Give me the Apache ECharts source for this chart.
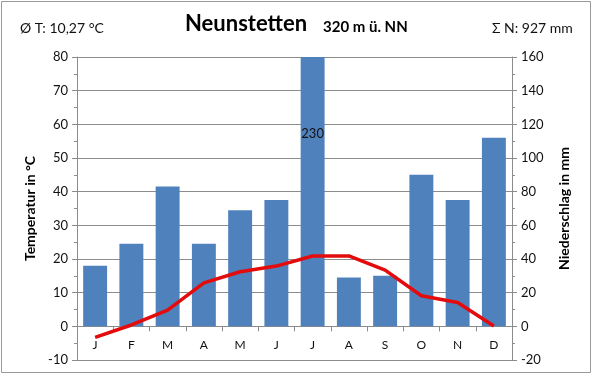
<!DOCTYPE html>
<html>
<head>
<meta charset="utf-8">
<script src="https://cdn.jsdelivr.net/npm/echarts@6/dist/echarts.min.js"></script>
<style>
  html, body { margin: 0; padding: 0; background: #fff; }
  #chart { width: 593px; height: 376px; }
</style>
</head>
<body>
<div id="chart"></div>
<script>
// Klimadiagramm Neunstetten
const months = ['J', 'F', 'M', 'A', 'M', 'J', 'J', 'A', 'S', 'O', 'N', 'D'];
const temperature = [-3.3, 0.4, 4.8, 12.9, 16.2, 17.9, 20.9, 20.9, 16.7, 9.1, 7.1, 0.1];
const precipitation = [36, 49, 83, 49, 69, 75, 230, 29, 30, 90, 75, 112];
const precipMax = 160;

const font = 'Lato, "Noto Sans", sans-serif';
const gridColor = '#8c8c8c';

// plot area, the x axis sits on 0 °C (10 units above the -10 bottom)
const gridTop = 57, gridBottom = 16;
const plotHeight = 376 - gridTop - gridBottom;
const zeroOffset = -plotHeight * 10 / 90;

const chart = echarts.init(document.getElementById('chart'));

chart.setOption({
  animation: false,
  textStyle: { fontFamily: font },
  graphic: [
    {
      type: 'rect',
      shape: { x: 1.5, y: 1.5, width: 589, height: 371 },
      style: { fill: 'none', stroke: '#9a9a9a', lineWidth: 1 }
    },
    {
      type: 'text', left: 20, top: 21,
      style: { text: 'Ø T: 10,27 °C', font: '14px ' + font, fill: '#111' }
    },
    {
      type: 'text', left: 185, top: 13,
      style: { text: 'Neunstetten', font: 'bold 22px ' + font, fill: '#000' }
    },
    {
      type: 'text', left: 323, top: 20,
      style: { text: '320 m ü. NN', font: 'bold 15px ' + font, fill: '#000' }
    },
    {
      type: 'text', left: 492, top: 21,
      style: { text: 'Σ N: 927 mm', font: '14px ' + font, fill: '#111' }
    }
  ],
  grid: { left: 77, right: 81, top: gridTop, bottom: gridBottom, containLabel: false, outerBoundsMode: 'none' },
  xAxis: {
    type: 'category',
    data: months,
    offset: zeroOffset,
    axisLine: { onZero: false, lineStyle: { color: gridColor } },
    axisTick: { show: true, alignWithLabel: false, length: 5, lineStyle: { color: gridColor } },
    axisLabel: { color: '#111', fontSize: 12, margin: 13 }
  },
  yAxis: [
    {
      type: 'value',
      min: -10, max: 80, interval: 10,
      name: 'Temperatur in °C',
      nameLocation: 'middle',
      nameGap: 40,
      nameRotate: 90,
      nameTextStyle: { fontWeight: 'bold', fontSize: 14, color: '#000' },
      axisLine: { show: true, lineStyle: { color: gridColor } },
      axisTick: { show: true, length: 5, lineStyle: { color: gridColor } },
      minorTick: { show: true, splitNumber: 2, length: 3, lineStyle: { color: gridColor } },
      splitLine: { show: true, lineStyle: { color: gridColor } },
      axisLabel: { color: '#111', fontSize: 13, margin: 9 }
    },
    {
      type: 'value',
      min: -20, max: precipMax, interval: 20,
      name: 'Niederschlag in mm',
      nameLocation: 'middle',
      nameGap: 45,
      nameRotate: 90,
      nameTextStyle: { fontWeight: 'bold', fontSize: 14, color: '#000' },
      axisLine: { show: true, lineStyle: { color: gridColor } },
      axisTick: { show: true, length: 5, lineStyle: { color: gridColor } },
      minorTick: { show: true, splitNumber: 2, length: 3, lineStyle: { color: gridColor } },
      splitLine: { show: false },
      axisLabel: { color: '#111', fontSize: 13, margin: 9 }
    }
  ],
  series: [
    {
      type: 'bar',
      yAxisIndex: 1,
      barCategoryGap: '34%',
      data: precipitation.map(v => ({
        value: Math.min(v, precipMax),
        label: v > precipMax
          ? { show: true, position: 'insideTop', distance: 70, formatter: String(v), color: '#111', fontSize: 13 }
          : { show: false }
      })),
      itemStyle: { color: '#4f81bd' }
    },
    {
      type: 'line',
      yAxisIndex: 0,
      data: temperature,
      symbol: 'none',
      lineStyle: { color: '#e30b0b', width: 3.5 }
    }
  ]
});
</script>
</body>
</html>
